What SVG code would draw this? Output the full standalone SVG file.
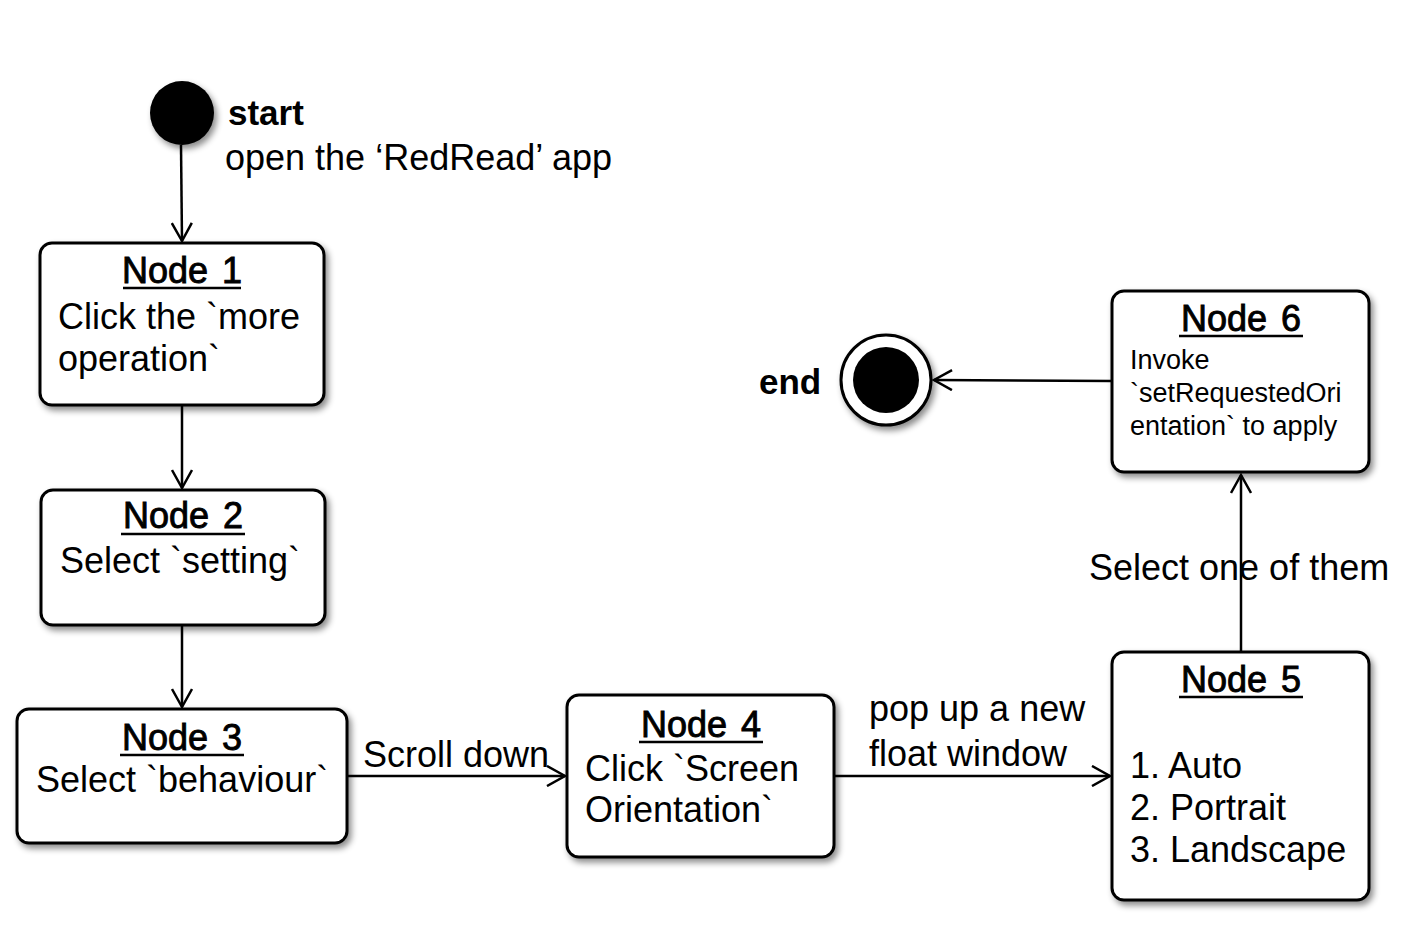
<svg xmlns="http://www.w3.org/2000/svg" width="1402" height="942" viewBox="0 0 1402 942">
<defs>
<filter id="sh" x="-10%" y="-10%" width="130%" height="130%">
<feDropShadow dx="3" dy="4" stdDeviation="3" flood-color="#000" flood-opacity="0.45"/>
</filter>
<marker id="arr" markerUnits="userSpaceOnUse" markerWidth="22" markerHeight="22" refX="19" refY="11" orient="auto" viewBox="0 0 22 22">
<path d="M1,1 L19,11 L1,21" fill="none" stroke="#000" stroke-width="2.5"/>
</marker>
<style>
.box{fill:#fff;stroke:#000;stroke-width:3;filter:url(#sh)}
.t{font-family:"Liberation Sans",Arial,sans-serif;font-size:36px;fill:#000}
.h{font-family:"Liberation Sans",Arial,sans-serif;font-size:36px;fill:#000;stroke:#000;stroke-width:0.9;word-spacing:4px}
.s{font-family:"Liberation Sans",Arial,sans-serif;font-size:27px;fill:#000}
.b{font-family:"Liberation Sans",Arial,sans-serif;font-size:35px;font-weight:bold;fill:#000}
.u{stroke:#000;stroke-width:2.5}
.c{fill:none;stroke:#000;stroke-width:2.5;marker-end:url(#arr)}
</style>
</defs>
<rect width="1402" height="942" fill="#fff"/>

<g id="start">
<circle cx="182" cy="113" r="32" fill="#000" filter="url(#sh)"/>
<text class="b" x="228" y="125">start</text>
<text class="t" x="225" y="170">open the ‘RedRead’ app</text>
</g>

<g id="end">
<circle cx="886" cy="380" r="45" fill="#fff" stroke="#000" stroke-width="3" filter="url(#sh)"/>
<circle cx="886" cy="380" r="33" fill="#000"/>
<text class="b" x="759" y="394">end</text>
</g>

<g id="node1">
<rect class="box" x="40" y="243" width="284" height="162" rx="12"/>
<text class="h" x="182" y="283" text-anchor="middle">Node 1</text>
<line class="u" x1="123" y1="288" x2="241" y2="288"/>
<text class="t" x="58" y="329">Click the `more</text>
<text class="t" x="58" y="371">operation`</text>
</g>

<g id="node2">
<rect class="box" x="41" y="490" width="284" height="135" rx="12"/>
<text class="h" x="183" y="528" text-anchor="middle">Node 2</text>
<line class="u" x1="121" y1="534" x2="245" y2="534"/>
<text class="t" x="60" y="573">Select `setting`</text>
</g>

<g id="node3">
<rect class="box" x="17" y="709" width="330" height="134" rx="12"/>
<text class="h" x="182" y="750" text-anchor="middle">Node 3</text>
<line class="u" x1="120" y1="755" x2="244" y2="755"/>
<text class="t" x="36" y="792">Select `behaviour`</text>
</g>

<g id="node4">
<rect class="box" x="567" y="695" width="267" height="162" rx="12"/>
<text class="h" x="701" y="737" text-anchor="middle">Node 4</text>
<line class="u" x1="639" y1="742" x2="763" y2="742"/>
<text class="t" x="585" y="781">Click `Screen</text>
<text class="t" x="585" y="822">Orientation`</text>
</g>

<g id="node5">
<rect class="box" x="1112" y="652" width="257" height="248" rx="12"/>
<text class="h" x="1241" y="692" text-anchor="middle">Node 5</text>
<line class="u" x1="1179" y1="697" x2="1303" y2="697"/>
<text class="t" x="1130" y="778">1. Auto</text>
<text class="t" x="1130" y="820">2. Portrait</text>
<text class="t" x="1130" y="862">3. Landscape</text>
</g>

<g id="node6">
<rect class="box" x="1112" y="291" width="257" height="181" rx="12"/>
<text class="h" x="1241" y="331" text-anchor="middle">Node 6</text>
<line class="u" x1="1179" y1="336" x2="1303" y2="336"/>
<text class="s" x="1130" y="369">Invoke</text>
<text class="s" x="1130" y="402">`setRequestedOri</text>
<text class="s" x="1130" y="435">entation` to apply</text>
</g>

<g id="connectors">
<line class="c" x1="181" y1="145" x2="182" y2="241"/>
<line class="c" x1="182" y1="405" x2="182" y2="488"/>
<line class="c" x1="182" y1="625" x2="182" y2="707"/>
<line class="c" x1="347" y1="776" x2="565" y2="776"/>
<line class="c" x1="834" y1="776" x2="1110" y2="776"/>
<line class="c" x1="1241" y1="652" x2="1241" y2="475"/>
<line class="c" x1="1112" y1="381" x2="934" y2="380"/>
<text class="t" x="363" y="767">Scroll down</text>
<text class="t" x="869" y="721">pop up a new</text>
<text class="t" x="869" y="766">float window</text>
<text class="t" x="1089" y="580">Select one of them</text>
</g>
</svg>
